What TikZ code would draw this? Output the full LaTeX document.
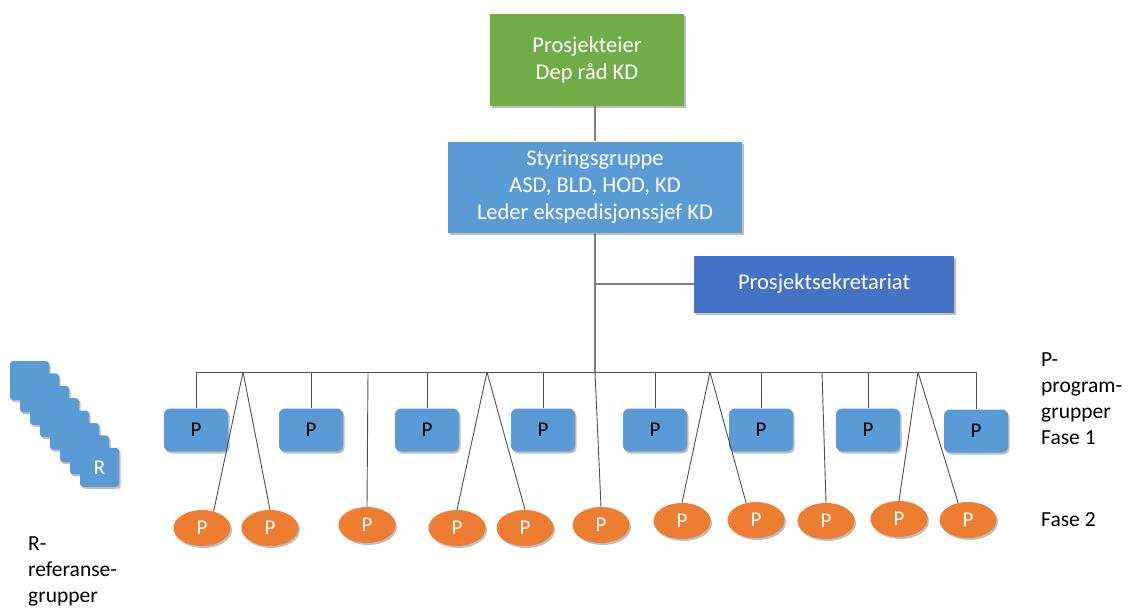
\documentclass[tikz,border=0pt]{standalone}
\usepackage{fontspec}
\setmainfont{Carlito}
\usetikzlibrary{shapes.geometric,shadows}
\definecolor{grn}{HTML}{70AD47}
\definecolor{blu}{HTML}{5B9BD5}
\definecolor{dblu}{HTML}{4472C4}
\definecolor{org}{HTML}{ED7D31}
\definecolor{lne}{HTML}{808080}
\definecolor{lnd}{HTML}{505050}
\begin{document}
\begin{tikzpicture}[x=1pt,y=-1pt,
  shd/.style={drop shadow={opacity=0.5,shadow xshift=1.5pt,shadow yshift=-2pt}},
  bigbox/.style={shd,inner sep=0pt,text=white,align=center,font=\fontsize{22.5}{27}\selectfont},
  pbox/.style={shd,fill=blu,rounded corners=6pt,minimum width=64pt,minimum height=43pt,inner sep=0pt,font=\fontsize{21}{24}\selectfont},
  pell/.style={shd,ellipse,fill=org,minimum width=57pt,minimum height=36pt,inner sep=0pt,text=white,font=\fontsize{21}{24}\selectfont},
  rbox/.style={shd,fill=blu,rounded corners=3pt,minimum width=39pt,minimum height=39pt,inner sep=0pt,text=white,font=\fontsize{21}{24}\selectfont},
  lbl/.style={inner sep=0pt,align=left,font=\fontsize{21.5}{26}\selectfont},
  topline/.style={draw=lne,line width=1.4pt},
  busline/.style={draw=lnd,line width=0.9pt}]
\useasboundingbox (0,0) rectangle (1136,610);
% top boxes
\node[bigbox,fill=grn,minimum width=194pt,minimum height=92pt] (own) at (587,60) {Prosjekteier\\Dep råd KD};
\node[bigbox,fill=blu,minimum width=294pt,minimum height=91pt] (sty) at (595,187) {Styringsgruppe\\ASD, BLD, HOD, KD\\Leder ekspedisjonssjef KD};
\node[bigbox,fill=dblu,minimum width=260pt,minimum height=57pt] (sek) at (824,284) {Prosjektsekretariat};
% bus coordinates
\coordinate (busL) at (196,372);
\coordinate (busR) at (976,372);
\coordinate (busM) at (595,372);
\coordinate (f1) at (243,372);
\coordinate (f2) at (487,372);
\coordinate (f3) at (710,372);
\coordinate (f4) at (918,372);
\coordinate (s1) at (368,372);
\coordinate (s2) at (822,372);
% phase 1 boxes
\node[pbox] (p1) at (196,430) {P};
\node[pbox] (p2) at (311,430) {P};
\node[pbox] (p3) at (427,430) {P};
\node[pbox] (p4) at (543,430) {P};
\node[pbox] (p5) at (655,430) {P};
\node[pbox] (p6) at (761,430) {P};
\node[pbox] (p7) at (868,430) {P};
\node[pbox] (p8) at (976,431) {P};
% phase 2 ellipses
\node[pell] (e1) at (202,528) {P};
\node[pell] (e2) at (270,528) {P};
\node[pell] (e3) at (367,525) {P};
\node[pell] (e4) at (457,528) {P};
\node[pell] (e5) at (525,528) {P};
\node[pell] (e6) at (601,525) {P};
\node[pell] (e7) at (682,521) {P};
\node[pell] (e8) at (756,520) {P};
\node[pell] (e9) at (826,521) {P};
\node[pell] (e10) at (899,519) {P};
\node[pell] (e11) at (968,520) {P};
% R stack
\foreach \k in {0,...,6} {
  \node[rbox] (r\k) at ({29.5+10*\k},{380.5+12.4*\k}) {};
}
\node[rbox] (r7) at (99.5,467.3) {R};
% labels
\node[lbl,anchor=west] (lblR) at (28,571) {R-\\referanse-\\grupper};
\node[lbl,anchor=west] (lblP) at (1041,399) {P-\\program-\\grupper\\Fase 1};
\node[lbl,anchor=west] (lblF) at (1041,520) {Fase 2};
% connectors
\draw[topline] (sty.north) -- (sty.north |- own.south);
\draw[topline] (sty.south) -- (busM);
\draw[topline] (sty.south |- sek.west) -- (sek.west);
\draw[busline] (busL) -- (busR);
\foreach \i in {1,...,8} { \draw[busline] (p\i.north |- busL) -- (p\i.north); }
\draw[busline] (f1) -- (e1.55);
\draw[busline] (f1) -- (e2.north);
\draw[busline] (f2) -- (e4.north);
\draw[busline] (f2) -- (e5.north);
\draw[busline] (f3) -- (e7.north);
\draw[busline] (f3) -- (e8.120);
\draw[busline] (f4) -- (e10.north);
\draw[busline] (f4) -- (e11.120);
\draw[busline] (s1) -- (e3.north);
\draw[busline] (busM) -- (e6.north);
\draw[busline] (s2) -- (e9.north);
\end{tikzpicture}
\end{document}
